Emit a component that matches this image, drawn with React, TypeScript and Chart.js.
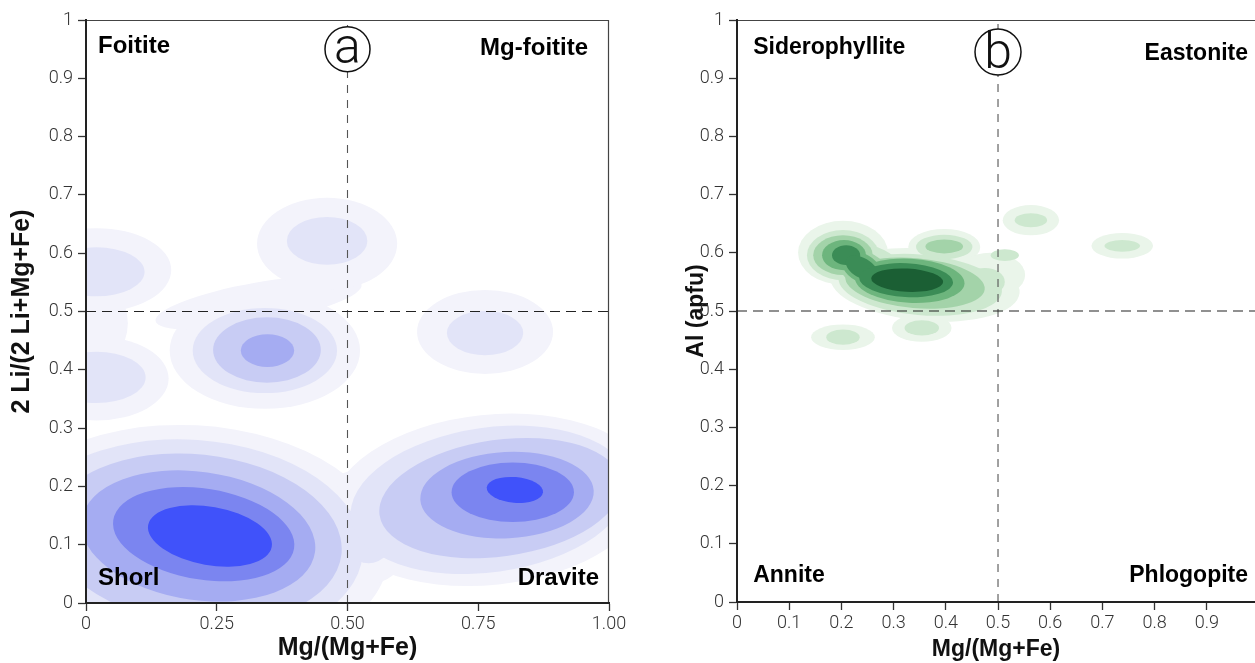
import React, { useEffect, useRef } from "react";
import { Chart, registerables } from "chart.js";

Chart.register(...registerables);

// [centre x, centre y, radius x, radius y (all in data units), tilt in degrees]
type Blob = [number, number, number, number, number];

// ---------- Panel (a): tourmaline, density levels from low to high ----------
const tourmalineLevel1: Blob[] = [
  [0.2, 0.1, 0.38, 0.205, 3],
  [0.53, 0.13, 0.1, 0.1, 0],
  [0.772, 0.177, 0.306, 0.146, -6],
  [0.02, 0.571, 0.143, 0.072, 0],
  [0.02, 0.385, 0.138, 0.072, 0],
  [0.0, 0.48, 0.08, 0.08, 0],
  [0.342, 0.433, 0.182, 0.1, 0],
  [0.33, 0.515, 0.2, 0.035, -10],
  [0.461, 0.616, 0.134, 0.079, 0],
  [0.763, 0.465, 0.13, 0.072, 0],
];
const tourmalineLevel2: Blob[] = [
  [0.2, 0.105, 0.33, 0.175, 4],
  [0.54, 0.12, 0.05, 0.052, 0],
  [0.772, 0.177, 0.268, 0.124, -8],
  [0.342, 0.433, 0.138, 0.073, 0],
  [0.02, 0.568, 0.092, 0.042, 0],
  [0.02, 0.387, 0.094, 0.044, 0],
  [0.461, 0.621, 0.077, 0.041, 0],
  [0.763, 0.463, 0.073, 0.038, 0],
];
const tourmalineLevel3: Blob[] = [
  [0.21, 0.11, 0.28, 0.145, 6],
  [0.792, 0.18, 0.233, 0.1, -8],
  [0.346, 0.434, 0.103, 0.056, 0],
];
const tourmalineLevel4: Blob[] = [
  [0.215, 0.115, 0.225, 0.11, 8],
  [0.805, 0.185, 0.166, 0.074, -3],
  [0.347, 0.433, 0.051, 0.028, 0],
];
const tourmalineLevel5: Blob[] = [
  [0.225, 0.118, 0.175, 0.078, 9],
  [0.816, 0.19, 0.117, 0.051, 0],
];
const tourmalineLevel6: Blob[] = [
  [0.237, 0.115, 0.12, 0.05, 10],
  [0.82, 0.194, 0.054, 0.022, 5],
];
const tourmalineColors = ["#f3f3fb", "#e2e4f8", "#c8ccf4", "#a5acf2", "#7b85f0", "#4052fa"];

// ---------- Panel (b): biotite, density levels from low to high ----------
const biotiteLevel1: Blob[] = [
  [0.203, 0.6, 0.086, 0.055, 0],
  [0.36, 0.545, 0.182, 0.062, 5],
  [0.397, 0.61, 0.069, 0.031, 0],
  [0.485, 0.562, 0.067, 0.038, 0],
  [0.563, 0.656, 0.054, 0.026, 0],
  [0.738, 0.612, 0.059, 0.022, 0],
  [0.203, 0.455, 0.061, 0.022, 0],
  [0.354, 0.471, 0.057, 0.024, 0],
  [0.36, 0.498, 0.027, 0.024, 0],
];
const biotiteLevel2: Blob[] = [
  [0.203, 0.596, 0.069, 0.043, 0],
  [0.351, 0.545, 0.157, 0.052, 5],
  [0.255, 0.574, 0.067, 0.038, 20],
  [0.397, 0.61, 0.054, 0.021, 0],
  [0.475, 0.55, 0.038, 0.024, 0],
  [0.513, 0.596, 0.027, 0.01, 0],
  [0.563, 0.656, 0.031, 0.012, 0],
  [0.738, 0.612, 0.034, 0.01, 0],
  [0.203, 0.455, 0.032, 0.013, 0],
  [0.354, 0.471, 0.033, 0.013, 0],
];
const biotiteLevel3: Blob[] = [
  [0.203, 0.596, 0.057, 0.034, 0],
  [0.341, 0.548, 0.134, 0.043, 5],
  [0.245, 0.57, 0.057, 0.031, 30],
  [0.397, 0.611, 0.036, 0.012, 0],
];
const biotiteLevel4: Blob[] = [
  [0.205, 0.596, 0.042, 0.026, 0],
  [0.331, 0.552, 0.105, 0.038, 3],
  [0.239, 0.574, 0.042, 0.024, 30],
];
const biotiteLevel5: Blob[] = [
  [0.209, 0.596, 0.027, 0.017, 0],
  [0.239, 0.574, 0.034, 0.017, 30],
  [0.324, 0.553, 0.09, 0.029, 3],
];
const biotiteLevel6: Blob[] = [[0.326, 0.553, 0.069, 0.02, 3]];
const biotiteColors = ["#eaf5ea", "#cde8cf", "#a3d3a9", "#6db57d", "#3b8c56", "#1b5f34"];

// ---------- axes, boundaries, labels ----------
const boundary = 0.5;
const yTickLabels = ["0", "0.1", "0.2", "0.3", "0.4", "0.5", "0.6", "0.7", "0.8", "0.9", "1"];
const tourmalineXTickLabels = ["0", "0.25", "0.50", "0.75", "1.00"];
const biotiteXTickLabels = ["0", "0.1", "0.2", "0.3", "0.4", "0.5", "0.6", "0.7", "0.8", "0.9"];
const tourmalineNames = ["Foitite", "Mg-foitite", "Shorl", "Dravite"];
const tourmalineNameX = [0.023, 0.96, 0.023, 0.981];
const tourmalineNameY = [0.943, 0.94, 0.031, 0.031];
const biotiteNames = ["Siderophyllite", "Eastonite", "Annite", "Phlogopite"];
const biotiteNameX = [0.031, 0.979, 0.031, 0.979];
const biotiteNameY = [0.942, 0.931, 0.034, 0.034];
const nameAlign = ["left", "right", "left", "right"];

const TICK_FONT = { family: "Roboto, 'Liberation Sans', sans-serif", size: 18, weight: "300" as any };
const TITLE_FAMILY = "'Liberation Sans', Arial, sans-serif";

const contourPlugin = {
  id: "contours",
  beforeDatasetsDraw(chart: any, _args: any, opts: any) {
    const { ctx, chartArea, scales } = chart;
    const xs = scales.x;
    const ys = scales.y;
    ctx.save();
    ctx.beginPath();
    ctx.rect(chartArea.left, chartArea.top, chartArea.right - chartArea.left, chartArea.bottom - chartArea.top);
    ctx.clip();
    (opts.levels as Blob[][]).forEach((blobs, i) => {
      ctx.fillStyle = opts.colors[i];
      blobs.forEach(([cx, cy, rx, ry, rot]) => {
        const px = xs.getPixelForValue(cx);
        const py = ys.getPixelForValue(cy);
        const prx = Math.abs(xs.getPixelForValue(cx + rx) - px);
        const pry = Math.abs(ys.getPixelForValue(cy + ry) - py);
        ctx.beginPath();
        ctx.ellipse(px, py, prx, pry, (rot * Math.PI) / 180, 0, Math.PI * 2);
        ctx.fill();
      });
    });
    ctx.restore();
  },
};

const decorPlugin = {
  id: "decor",
  afterDatasetsDraw(chart: any, _args: any, opts: any) {
    const { ctx, chartArea, scales } = chart;
    const xs = scales.x;
    const ys = scales.y;
    ctx.save();
    // frame (top / right)
    ctx.strokeStyle = "#444";
    ctx.lineWidth = 1.2;
    ctx.beginPath();
    ctx.moveTo(chartArea.left, chartArea.top + 0.5);
    ctx.lineTo(chartArea.right, chartArea.top + 0.5);
    if (opts.rightBorder) {
      ctx.moveTo(chartArea.right - 0.5, chartArea.top);
      ctx.lineTo(chartArea.right - 0.5, chartArea.bottom);
    }
    ctx.stroke();

    // panel letter in a circle
    const cx = xs.getPixelForValue(opts.circleX);
    const cy = ys.getPixelForValue(opts.circleY);
    ctx.beginPath();
    ctx.arc(cx, cy, opts.radius, 0, Math.PI * 2);
    ctx.fillStyle = "#fff";
    ctx.fill();
    ctx.lineWidth = 1.5;
    ctx.strokeStyle = "#111";
    ctx.stroke();
    ctx.fillStyle = "#111";
    ctx.font = "300 50px Roboto, 'Liberation Sans', sans-serif";
    ctx.textAlign = "center";
    ctx.textBaseline = "alphabetic";
    ctx.fillText(opts.letter, cx, cy + opts.letterDrop);

    // quadrant names
    ctx.font = `bold ${opts.nameSize}px ${TITLE_FAMILY}`;
    ctx.fillStyle = "#000";
    (opts.names as string[]).forEach((t, i) => {
      ctx.textAlign = opts.align[i];
      ctx.fillText(t, xs.getPixelForValue(opts.nameX[i]), ys.getPixelForValue(opts.nameY[i]));
    });
    ctx.restore();
  },
};

function makeConfig(p: any) {
  const lineStyle = { showLine: true, pointRadius: 0, fill: false };
  return {
    type: "scatter",
    data: {
      datasets: [
        {
          ...lineStyle,
          data: [
            { x: 0, y: boundary },
            { x: 1, y: boundary },
          ],
          borderColor: "#222",
          borderWidth: 1.2,
          borderDash: [10, 6],
        },
        {
          ...lineStyle,
          data: [
            { x: boundary, y: 0 },
            { x: boundary, y: 1 },
          ],
          borderColor: "#555",
          borderWidth: 1.1,
          borderDash: [8, 7],
        },
      ],
    },
    options: {
      responsive: false,
      animation: false,
      events: [],
      layout: { padding: { left: 0, top: 20, right: p.padRight, bottom: 0 } },
      plugins: {
        legend: { display: false },
        tooltip: { enabled: false },
        contours: { levels: p.levels, colors: p.colors },
        decor: {
          rightBorder: p.rightBorder,
          circleX: boundary,
          circleY: p.circleY,
          radius: p.radius,
          letter: p.letter,
          letterDrop: p.letterDrop,
          names: p.names,
          nameX: p.nameX,
          nameY: p.nameY,
          align: nameAlign,
          nameSize: p.nameSize,
        },
      },
      scales: {
        x: {
          type: "linear",
          min: 0,
          max: p.xMax,
          afterFit: (s: any) => {
            s.height = p.xAxisHeight;
          },
          ticks: {
            stepSize: p.xStep,
            includeBounds: false,
            autoSkip: false,
            maxRotation: 0,
            padding: 3,
            color: "#333",
            font: TICK_FONT,
            callback: (_v: any, i: number) => p.xLabels[i],
          },
          grid: { display: true, drawOnChartArea: false, drawTicks: true, tickLength: 8, tickWidth: 1.3, tickColor: "#333" },
          border: { display: true, color: "#222", width: 2, z: 1 },
          title: {
            display: true,
            text: "Mg/(Mg+Fe)",
            color: "#111",
            font: { family: TITLE_FAMILY, size: p.titleSize, weight: "bold" },
            padding: { top: 0, bottom: 0 },
          },
        },
        y: {
          type: "linear",
          min: 0,
          max: 1,
          afterFit: (s: any) => {
            s.width = p.yAxisWidth;
          },
          ticks: {
            stepSize: 0.1,
            autoSkip: false,
            padding: 5,
            color: "#333",
            font: TICK_FONT,
            callback: (_v: any, i: number) => yTickLabels[i],
          },
          grid: { display: true, drawOnChartArea: false, drawTicks: true, tickLength: 8, tickWidth: 1.3, tickColor: "#333" },
          border: { display: true, color: "#222", width: 2, z: 1 },
          title: {
            display: true,
            text: p.yTitle,
            color: "#111",
            font: { family: TITLE_FAMILY, size: p.titleSize, weight: "bold" },
            padding: { top: p.yTitlePad, bottom: 0 },
          },
        },
      },
    },
    plugins: [contourPlugin, decorPlugin],
  };
}

export default function App() {
  const leftRef = useRef<HTMLCanvasElement>(null);
  const rightRef = useRef<HTMLCanvasElement>(null);

  useEffect(() => {
    const left = new Chart(
      leftRef.current as HTMLCanvasElement,
      makeConfig({
        levels: [tourmalineLevel1, tourmalineLevel2, tourmalineLevel3, tourmalineLevel4, tourmalineLevel5, tourmalineLevel6],
        colors: tourmalineColors,
        padRight: 31,
        rightBorder: true,
        xMax: 1,
        xStep: 0.25,
        xLabels: tourmalineXTickLabels,
        xAxisHeight: 60,
        yAxisWidth: 86,
        yTitle: "2 Li/(2 Li+Mg+Fe)",
        yTitlePad: 7,
        titleSize: 25,
        circleY: 0.95,
        radius: 22.5,
        letter: "a",
        letterDrop: 14,
        names: tourmalineNames,
        nameX: tourmalineNameX,
        nameY: tourmalineNameY,
        nameSize: 24,
      }) as any
    );
    const right = new Chart(
      rightRef.current as HTMLCanvasElement,
      makeConfig({
        levels: [biotiteLevel1, biotiteLevel2, biotiteLevel3, biotiteLevel4, biotiteLevel5, biotiteLevel6],
        colors: biotiteColors,
        padRight: 0,
        rightBorder: false,
        xMax: 0.9923,
        xStep: 0.1,
        xLabels: biotiteXTickLabels,
        xAxisHeight: 61,
        yAxisWidth: 97,
        yTitle: "Al (apfu)",
        yTitlePad: 43,
        titleSize: 23,
        circleY: 0.945,
        radius: 23,
        letter: "b",
        letterDrop: 16,
        names: biotiteNames,
        nameX: biotiteNameX,
        nameY: biotiteNameY,
        nameSize: 23,
      }) as any
    );
    return () => {
      left.destroy();
      right.destroy();
    };
  }, []);

  return (
    <div style={{ position: "fixed", left: 0, top: 0, width: 1255, height: 663, overflow: "hidden", background: "#fff" }}>
      <canvas ref={leftRef} width={640} height={663} style={{ position: "absolute", left: 0, top: 0, width: 640, height: 663 }} />
      <canvas ref={rightRef} width={615} height={663} style={{ position: "absolute", left: 640, top: 0, width: 615, height: 663 }} />
    </div>
  );
}
